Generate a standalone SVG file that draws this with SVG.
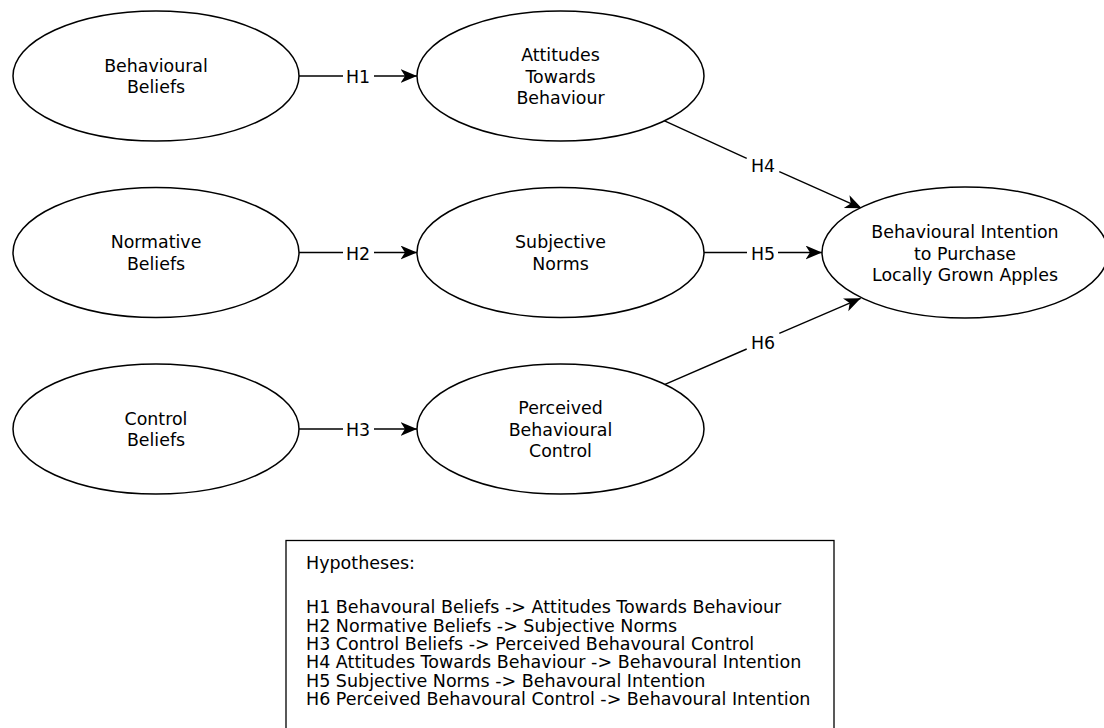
<svg xmlns="http://www.w3.org/2000/svg" width="1104" height="728" viewBox="0 0 1104 728">
<defs>
<style>
.node ellipse{fill:#fff;stroke:#000;stroke-width:1.5}
.t{font-family:"DejaVu Sans","Liberation Sans",sans-serif;font-size:17.4px;fill:#000;text-anchor:middle}
.h{font-family:"DejaVu Sans","Liberation Sans",sans-serif;font-size:17.5px;fill:#000}
.edge path{fill:none;stroke:#000;stroke-width:1.4}
</style>
<marker id="arr" markerUnits="userSpaceOnUse" markerWidth="18" markerHeight="16" refX="16.5" refY="7" orient="auto">
<path d="M0,0 L16.5,7 L0,14 L4.5,7 z" fill="#000"/>
</marker>
</defs>
<rect width="1104" height="728" fill="#fff"/>
<g id="connectors" class="edge">
<path d="M299,76 H343"/><path d="M374,76 H417" marker-end="url(#arr)"/>
<path d="M299,252.5 H343"/><path d="M374,252.5 H417" marker-end="url(#arr)"/>
<path d="M299,429 H343"/><path d="M374,429 H417" marker-end="url(#arr)"/>
<path d="M704,252.5 H747"/><path d="M778,252.5 H822" marker-end="url(#arr)"/>
<path d="M664,120.7 L746.7,158.3"/><path d="M779.3,171.7 L861.7,208.3" marker-end="url(#arr)"/>
<path d="M665,384.3 L746.7,349"/><path d="M779.3,333.3 L860.7,298.3" marker-end="url(#arr)"/>
<text class="t" x="358" y="83">H1</text>
<text class="t" x="358" y="259.5">H2</text>
<text class="t" x="358" y="436">H3</text>
<text class="t" x="763" y="171.7">H4</text>
<text class="t" x="763" y="259.5">H5</text>
<text class="t" x="763" y="349">H6</text>
</g>
<g id="behavioural-beliefs" class="node">
<ellipse cx="156" cy="76" rx="143" ry="65"/>
<text class="t" x="156" y="71.75">Behavioural</text>
<text class="t" x="156" y="93.25">Beliefs</text>
</g>
<g id="normative-beliefs" class="node">
<ellipse cx="156" cy="252.5" rx="143" ry="65"/>
<text class="t" x="156" y="248.25">Normative</text>
<text class="t" x="156" y="269.75">Beliefs</text>
</g>
<g id="control-beliefs" class="node">
<ellipse cx="156" cy="429" rx="143" ry="65"/>
<text class="t" x="156" y="424.75">Control</text>
<text class="t" x="156" y="446.25">Beliefs</text>
</g>
<g id="attitudes" class="node">
<ellipse cx="560.5" cy="76" rx="143.5" ry="65"/>
<text class="t" x="560.5" y="61">Attitudes</text>
<text class="t" x="560.5" y="82.5">Towards</text>
<text class="t" x="560.5" y="104">Behaviour</text>
</g>
<g id="subjective-norms" class="node">
<ellipse cx="560.5" cy="252.5" rx="143.5" ry="65"/>
<text class="t" x="560.5" y="248.25">Subjective</text>
<text class="t" x="560.5" y="269.75">Norms</text>
</g>
<g id="pbc" class="node">
<ellipse cx="560.5" cy="429" rx="143.5" ry="65"/>
<text class="t" x="560.5" y="414">Perceived</text>
<text class="t" x="560.5" y="435.5">Behavioural</text>
<text class="t" x="560.5" y="457">Control</text>
</g>
<g id="intention" class="node">
<ellipse cx="965" cy="252.5" rx="143" ry="65.5"/>
<text class="t" x="965" y="238">Behavioural Intention</text>
<text class="t" x="965" y="259.5">to Purchase</text>
<text class="t" x="965" y="281">Locally Grown Apples</text>
</g>
<g id="hypotheses">
<rect x="286" y="540.5" width="548" height="200" fill="#fff" stroke="#000" stroke-width="1.3"/>
<text class="h" x="306" y="569.3">Hypotheses:</text>
<text class="h" x="306" y="613.3">H1 Behavoural Beliefs -&gt; Attitudes Towards Behaviour</text>
<text class="h" x="306" y="631.7">H2 Normative Beliefs -&gt; Subjective Norms</text>
<text class="h" x="306" y="650">H3 Control Beliefs -&gt; Perceived Behavoural Control</text>
<text class="h" x="306" y="668.3">H4 Attitudes Towards Behaviour -&gt; Behavoural Intention</text>
<text class="h" x="306" y="686.7">H5 Subjective Norms -&gt; Behavoural Intention</text>
<text class="h" x="306" y="705">H6 Perceived Behavoural Control -&gt; Behavoural Intention</text>
</g>
</svg>
